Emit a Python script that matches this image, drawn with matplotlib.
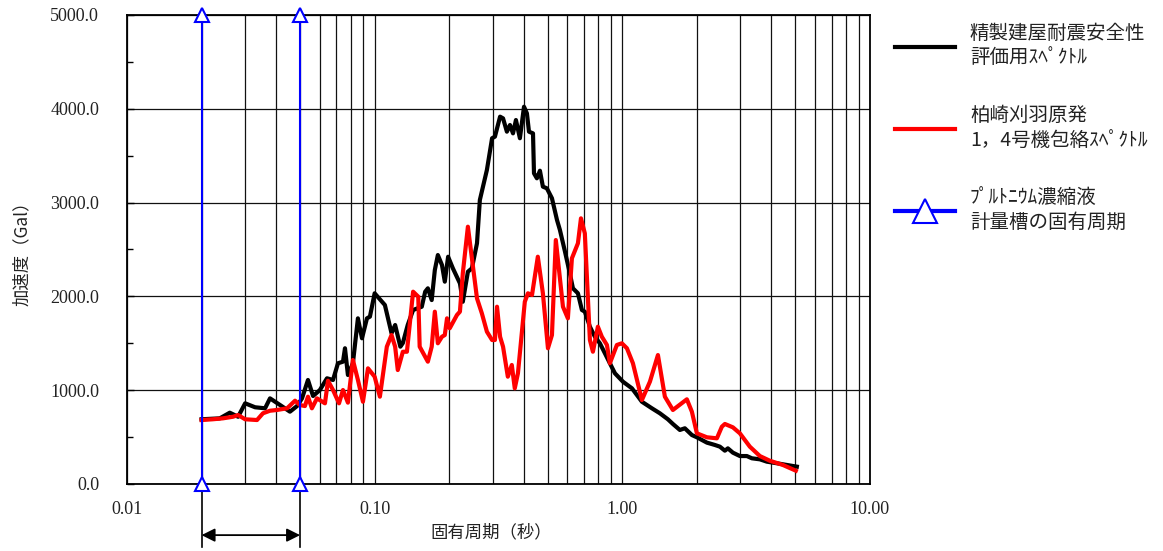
import matplotlib
matplotlib.use("Agg")
import matplotlib.pyplot as plt
from matplotlib.ticker import FixedLocator, MultipleLocator, FormatStrFormatter, LogLocator, NullFormatter
from matplotlib.transforms import blended_transform_factory

plt.rcParams['font.family'] = ['Noto Sans CJK JP', 'DejaVu Sans']

# 精製建屋耐震安全性評価用スペクトル (周期[s], 加速度[Gal])
period_black = [0.020, 0.0237, 0.026, 0.0281, 0.030, 0.0329, 0.0361, 0.0378, 0.0415, 0.0455,
                0.0486, 0.0509, 0.0538, 0.0564, 0.0601, 0.0642, 0.0679, 0.0711, 0.0745, 0.0759,
                0.078, 0.0817, 0.0856, 0.0889, 0.0931, 0.0957, 0.100, 0.110, 0.117, 0.121,
                0.127, 0.130, 0.136, 0.143, 0.155, 0.160, 0.164, 0.170, 0.175, 0.180,
                0.187, 0.192, 0.198, 0.207, 0.221, 0.227, 0.238, 0.247, 0.259, 0.266,
                0.284, 0.298, 0.306, 0.321, 0.330, 0.342, 0.352, 0.362, 0.372, 0.386,
                0.401, 0.412, 0.420, 0.436, 0.440, 0.452, 0.465, 0.478, 0.496, 0.520,
                0.545, 0.560, 0.587, 0.614, 0.632, 0.662, 0.687, 0.706, 0.740, 0.775,
                0.812, 0.851, 0.891, 0.934, 1.006, 1.094, 1.200, 1.317, 1.418, 1.528,
                1.601, 1.708, 1.789, 1.910, 2.001, 2.196, 2.366, 2.478, 2.596, 2.669,
                2.797, 2.985, 3.184, 3.336, 3.594, 3.835, 4.209, 4.618, 5.069]
accel_black = [690, 700, 760, 717, 860, 818, 807, 913, 842, 771,
               831, 913, 1109, 938, 1002, 1127, 1109, 1287, 1304, 1447,
               1162, 1287, 1766, 1553, 1766, 1784, 2033, 1908, 1607, 1695,
               1464, 1503, 1695, 1855, 1890, 2050, 2086, 1961, 2281, 2441,
               2335, 2157, 2423, 2299, 2139, 1943, 2263, 2299, 2566, 3028,
               3348, 3686, 3703, 3916, 3898, 3756, 3827, 3738, 3880, 3686,
               4022, 3951, 3756, 3738, 3312, 3259, 3340, 3170, 3152, 3046,
               2814, 2708, 2477, 2246, 2086, 2033, 1855, 1837, 1677, 1570,
               1500, 1393, 1287, 1180, 1091, 1020, 877, 807, 754, 690,
               640, 576, 594, 522, 498, 441, 416, 398, 355, 380,
               334, 298, 298, 274, 263, 238, 221, 203, 185]

# 柏崎刈羽原発1，4号機包絡スペクトル
period_red = [0.020, 0.0222, 0.0244, 0.0268, 0.0281, 0.030, 0.0335, 0.0354, 0.0378, 0.0403,
              0.0443, 0.0477, 0.0499, 0.0523, 0.0538, 0.0558, 0.0585, 0.063, 0.0648, 0.0679,
              0.0718, 0.0745, 0.078, 0.0817, 0.0856, 0.0897, 0.094, 0.100, 0.105, 0.112,
              0.117, 0.121, 0.124, 0.130, 0.135, 0.143, 0.150, 0.152, 0.164, 0.170,
              0.175, 0.180, 0.187, 0.192, 0.196, 0.201, 0.215, 0.221, 0.227, 0.238,
              0.259, 0.271, 0.284, 0.298, 0.306, 0.312, 0.321, 0.330, 0.345, 0.358,
              0.368, 0.379, 0.404, 0.416, 0.432, 0.456, 0.478, 0.501, 0.520, 0.539,
              0.576, 0.603, 0.626, 0.662, 0.681, 0.706, 0.740, 0.761, 0.797, 0.827,
              0.867, 0.891, 0.951, 0.996, 1.044, 1.104, 1.200, 1.293, 1.393, 1.486,
              1.601, 1.823, 1.910, 2.001, 2.196, 2.410, 2.524, 2.596, 2.797, 2.985,
              3.274, 3.594, 3.943, 4.451, 5.022]
accel_red = [682, 690, 700, 717, 735, 690, 682, 754, 781, 789,
             807, 888, 842, 831, 931, 807, 913, 860, 1101, 1002,
             860, 1002, 867, 1322, 1109, 877, 1233, 1144, 931, 1464,
             1588, 1464, 1215, 1410, 1410, 2050, 1997, 1464, 1304, 1464,
             1837, 1500, 1570, 1588, 1766, 1660, 1802, 1837, 2246, 2743,
             1979, 1819, 1624, 1535, 1535, 1890, 1570, 1464, 1144, 1269,
             1020, 1180, 1943, 2033, 2015, 2423, 2033, 1447, 1588, 2601,
             1890, 1766, 2406, 2566, 2832, 2672, 1535, 1410, 1677, 1570,
             1482, 1287, 1482, 1500, 1447, 1287, 895, 1091, 1375, 931,
             789, 903, 771, 540, 498, 487, 611, 640, 604, 540,
             398, 298, 248, 203, 142]

# プルトニウム濃縮液計量槽の固有周期の範囲
tank_periods = [0.02, 0.05]

labels_black = '精製建屋耐震安全性\n評価用ｽﾍﾟｸﾄﾙ'
labels_red = '柏崎刈羽原発\n1，4号機包絡ｽﾍﾟｸﾄﾙ'
labels_blue = 'ﾌﾟﾙﾄﾆｳﾑ濃縮液\n計量槽の固有周期'

y_ticks = [0, 1000, 2000, 3000, 4000, 5000]
x_ticks = [0.01, 0.1, 1, 10]

fig = plt.figure(figsize=(11.63, 5.51), dpi=100)
fig.subplots_adjust(left=0.1092, right=0.748, bottom=0.1216, top=0.9728)
ax = fig.add_subplot(111)

ax.set_xscale('log')
ax.set_xlim(0.01, 10)
ax.set_ylim(0, 5000)

ax.plot(period_black, accel_black, color='black', lw=3, zorder=3, label=labels_black)
ax.plot(period_red, accel_red, color='#ff0000', lw=3, zorder=4, label=labels_red)
for i, p in enumerate(tank_periods):
    ax.plot([p, p], [0, 5000], color='#0000ff', lw=1.5, marker='^', ms=10,
            mfc='white', mec='#0000ff', mew=1.5, clip_on=False, zorder=5,
            label=labels_blue if i == 0 else None)

# 軸・目盛
ax.xaxis.set_major_locator(FixedLocator(x_ticks))
ax.xaxis.set_major_formatter(FormatStrFormatter('%.2f'))
ax.xaxis.set_minor_locator(LogLocator(base=10, subs=range(2, 10)))
ax.xaxis.set_minor_formatter(NullFormatter())
ax.yaxis.set_major_locator(FixedLocator(y_ticks))
ax.yaxis.set_major_formatter(FormatStrFormatter('%.1f'))
ax.yaxis.set_minor_locator(MultipleLocator(500))

ax.tick_params(axis='x', which='both', length=0, pad=12)
ax.tick_params(axis='y', which='major', direction='in', length=5, width=1, pad=20)
ax.tick_params(axis='y', which='minor', direction='in', length=4, width=1)
for lab in ax.get_xticklabels() + ax.get_yticklabels():
    lab.set_fontfamily('Liberation Serif')
    lab.set_fontsize(13)
    lab.set_color('#222222')

ax.grid(True, which='major', axis='both', color='#111111', lw=0.9)
ax.grid(True, which='minor', axis='x', color='#111111', lw=0.9)
ax.set_axisbelow(True)
for s in ax.spines.values():
    s.set_linewidth(1.3)
    s.set_color('black')

ax.set_xlabel('固有周期（秒）', fontsize=12.5, color='#222222')
ax.set_ylabel('加速度（Gal）', fontsize=12.5, color='#222222')
ax.xaxis.set_label_coords(0.49, -0.083)
ax.yaxis.set_label_coords(-0.13, 0.5)

# 固有周期範囲の寸法線
trans = blended_transform_factory(ax.transData, ax.transAxes)
for p in tank_periods:
    ax.plot([p, p], [0.008, -0.134], color='black', lw=1.2, transform=trans, clip_on=False)
ax.annotate('', xy=(tank_periods[1], -0.109), xytext=(tank_periods[0], -0.109),
            xycoords=trans, textcoords=trans,
            arrowprops=dict(arrowstyle='<|-|>', color='black', lw=1.3,
                            mutation_scale=20, shrinkA=0, shrinkB=0))

leg = ax.legend(loc='upper left', bbox_to_anchor=(0.7696, 0.958),
                bbox_transform=fig.transFigure, frameon=False, fontsize=14,
                handlelength=3.1, handletextpad=0.75, labelspacing=1.9,
                borderpad=0, borderaxespad=0, markerscale=1.7)
for line in leg.get_lines():
    line.set_linewidth(3)
for txt in leg.get_texts():
    txt.set_color('#222222')

fig.savefig('out.png', dpi=100)
